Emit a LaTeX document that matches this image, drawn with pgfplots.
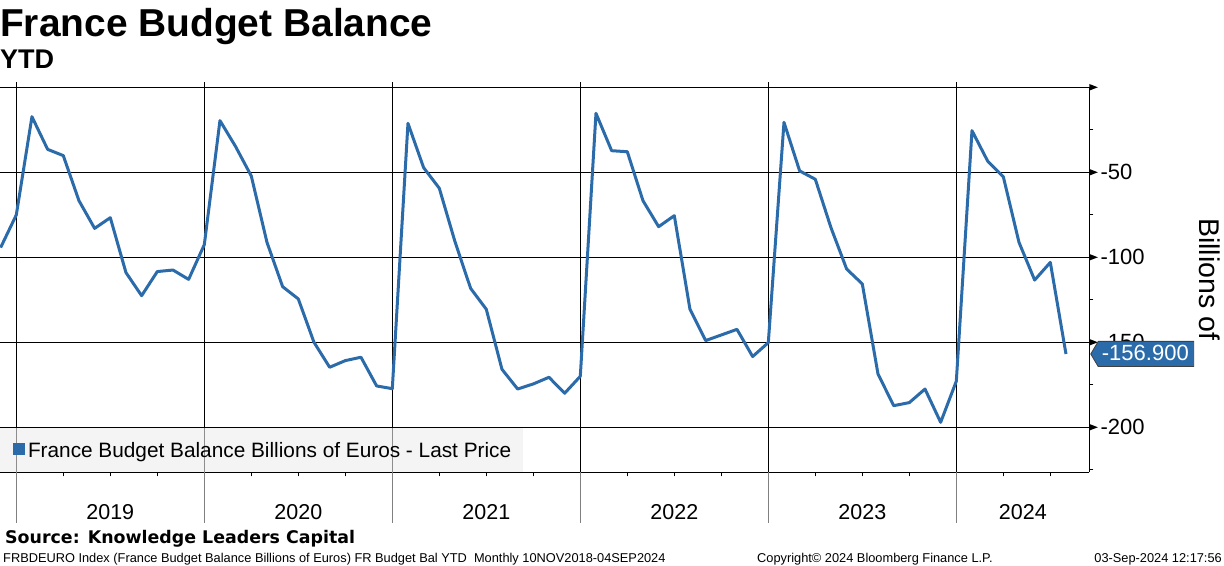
\documentclass[border=0pt]{standalone}
\usepackage{fontspec}
\setmainfont{Liberation Sans}
\newfontfamily\dvs{DejaVu Sans}
\usepackage{pgfplots}
\pgfplotsset{compat=1.18}
\definecolor{lineblue}{RGB}{44,107,170}
\definecolor{legfill}{RGB}{236,236,236}
\newcommand{\fs}[1]{\fontsize{#1bp}{#1bp}\selectfont}
\begin{document}
\begin{tikzpicture}[x=1bp,y=1bp]
\path[use as bounding box] (0bp,0bp) rectangle (1224bp,-566bp);
\begin{axis}[
  at={(0bp,-472.3bp)}, anchor=south west,
  width=1089.3bp, height=385bp, scale only axis,
  xmin=-1.04, xmax=68.49, ymin=-226.5, ymax=0,
  axis x line*=bottom, axis y line*=right,
  axis line style={black, line width=0.9bp, -},
  ytick={-200,-150,-100,-50,0},
  yticklabels={-200,-150,-100,-50,{}},
  minor ytick={-225,-175,-125,-75,-25},
  ymajorgrids,
  major grid style={black, line width=0.9bp},
  xtick={6,18,30,42,54,64.25},
  xticklabels={2019,2020,2021,2022,2023,2024},
  extra x ticks={0,12,24,36,48,60},
  extra x tick labels={},
  extra x tick style={xmajorgrids=true},
  minor xtick={3,6,9,15,18,21,27,30,33,39,42,45,51,54,57,63,66},
  tick align=outside,
  major tick length=0pt,
  minor tick length=4bp,
  tick style={black, line width=0.9bp},
  xticklabel style={font=\fs{21.5}, anchor=base, yshift=-47bp},
  yticklabel style={font=\fs{22}, inner sep=0pt, anchor=west, xshift=11bp},
  clip=false,
]
\addplot[lineblue, line width=3bp, line join=round] coordinates {
(-1,-94.3) (0,-75.1) (1,-17.3) (2,-36.5) (3,-40.2) (4,-66.7) (5,-83.0) (6,-76.7)
(7,-109.0) (8,-122.6) (9,-108.4) (10,-107.5) (11,-113.0) (12,-92.6)
(13,-19.6) (14,-34.9) (15,-52.2) (16,-91.2) (17,-117.3) (18,-124.5) (19,-150.0)
(20,-164.7) (21,-160.8) (22,-158.8) (23,-175.7) (24,-177.3)
(25,-21.2) (26,-47.3) (27,-59.4) (28,-90.8) (29,-118.3) (30,-130.6) (31,-165.9)
(32,-177.5) (33,-174.5) (34,-170.6) (35,-180.0) (36,-170.0)
(37,-15.3) (38,-37.3) (39,-37.9) (40,-66.7) (41,-82.0) (42,-75.5) (43,-130.6)
(44,-149.0) (45,-145.7) (46,-142.4) (47,-158.4) (48,-150.2)
(49,-20.6) (50,-49.2) (51,-54.1) (52,-82.6) (53,-106.9) (54,-115.7) (55,-168.6)
(56,-187.3) (57,-185.5) (58,-177.5) (59,-197.1) (60,-172.9)
(61,-25.5) (62,-43.4) (63,-52.6) (64,-91.2) (65,-113.4) (66,-103.0) (67,-156.9)
};
\coordinate (tag) at (axis cs:68.49,-156.9);
\coordinate (t0) at (axis cs:68.49,0);
\coordinate (t1) at (axis cs:68.49,-50);
\coordinate (t2) at (axis cs:68.49,-100);
\coordinate (t3) at (axis cs:68.49,-150);
\coordinate (t4) at (axis cs:68.49,-200);
\coordinate (s0) at (axis cs:0,0);   \coordinate (b0) at (axis cs:0,-226.5);
\coordinate (s1) at (axis cs:12,0);  \coordinate (b1) at (axis cs:12,-226.5);
\coordinate (s2) at (axis cs:24,0);  \coordinate (b2) at (axis cs:24,-226.5);
\coordinate (s3) at (axis cs:36,0);  \coordinate (b3) at (axis cs:36,-226.5);
\coordinate (s4) at (axis cs:48,0);  \coordinate (b4) at (axis cs:48,-226.5);
\coordinate (s5) at (axis cs:60,0);  \coordinate (b5) at (axis cs:60,-226.5);
\end{axis}
% year separator extensions
\foreach \i in {0,...,5}{
  \draw[black, line width=0.9bp] (s\i) -- ++(0bp,5.6bp);
  \draw[gray, line width=0.9bp] (b\i) -- ++(0bp,-51bp);
}
% right axis arrow ticks
\foreach \i in {0,...,4}{
  \fill ([yshift=3.3bp]t\i) -- ([xshift=8.5bp]t\i) -- ([yshift=-3.3bp]t\i) -- cycle;
}
% legend
\fill[legfill, fill opacity=0.6] (0bp,-428bp) rectangle (523bp,-472bp);
\fill[lineblue] (13bp,-443bp) rectangle (25bp,-455bp);
\node[anchor=base west, inner sep=0pt] at (27.8bp,-457.5bp) {\fs{20.8}France Budget Balance Billions of Euros - Last Price};
% last value tag
\filldraw[fill=lineblue, draw=black!75, line width=0.8bp] ([xshift=1.4bp]tag) -- ++(7.5bp,12.6bp) -- ++(95.5bp,0bp) -- ++(0bp,-25.2bp) -- ++(-95.5bp,0bp) -- cycle;
\node[text=white, inner sep=0pt, font=\fs{22}] at ([xshift=56bp,yshift=0.8bp]tag) {-156.900};
% y label
\node[rotate=-90, anchor=base west, inner sep=0pt] at (1199bp,-218bp) {\fs{28.5}Billions of};
% titles
\node[anchor=base west, inner sep=0pt] at (0bp,-36.7bp) {\fs{38.9}\bfseries France Budget Balance};
\node[anchor=base west, inner sep=0pt] at (0bp,-68.3bp) {\fs{27}\bfseries YTD};
\node[anchor=base west, inner sep=0pt] at (5bp,-543.3bp) {\dvs\fs{17.4}\bfseries Source: Knowledge Leaders Capital};
\node[anchor=base west, inner sep=0pt] at (3bp,-562.5bp) {\fs{12.8}FRBDEURO Index (France Budget Balance Billions of Euros) FR Budget Bal YTD\ \ Monthly 10NOV2018-04SEP2024};
\node[anchor=base west, inner sep=0pt] at (757bp,-562.5bp) {\fs{12.8}Copyright© 2024 Bloomberg Finance L.P.};
\node[anchor=base east, inner sep=0pt] at (1222bp,-562.5bp) {\fs{12.8}03-Sep-2024 12:17:56};
\end{tikzpicture}
\end{document}
